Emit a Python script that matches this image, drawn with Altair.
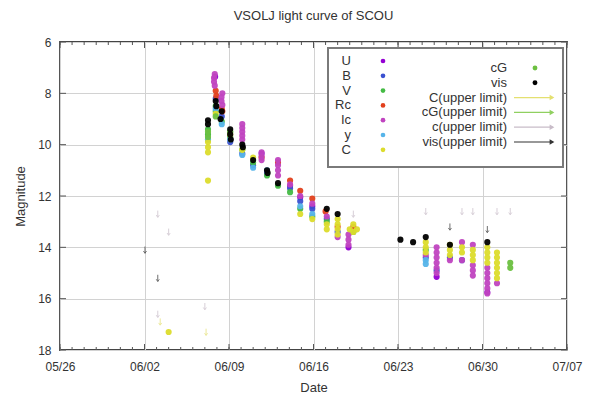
import altair as alt
import pandas as pd
import datetime as dt

# ---------------- data (June day number, magnitude) ----------------
BANDS = ["U", "B", "V", "Rc", "Ic", "y", "C", "cG", "vis"]
COLORS = ["#9400d3", "#3a50d0", "#44bb44", "#e2401c", "#c044c0",
          "#56b4e9", "#dcdc2c", "#6cc040", "#000000"]

U_day = [7.85, 11.7, 14.06, 14.9, 15.9, 18.9, 26.2, 30.4]
U_mag = [7.35, 10.35, 11.6, 12.05, 12.4, 14.0, 15.15, 15.75]

B_day = [7.9, 8.4, 9.1, 10.1, 11.0, 12.15, 14.06, 14.9, 15.9, 17.1, 18.0, 25.3, 26.2, 27.3, 28.3]
B_mag = [8.2, 8.9, 9.9, 10.35, 10.8, 11.1, 11.7, 12.2, 12.5, 12.9, 13.4, 14.4, 14.9, 14.4, 14.5]

V_day = [7.26, 7.26, 7.26, 7.9, 7.9, 8.4, 9.1, 9.1, 10.1, 11.0, 12.15, 13.06, 14.06, 14.9, 15.9, 17.1, 19.3, 25.3]
V_mag = [9.4, 9.6, 9.8, 8.5, 8.7, 9.1, 9.5, 9.7, 10.2, 10.7, 11.2, 11.6, 11.85, 12.5, 12.8, 13.0, 13.4, 14.1]

Rc_day = [7.9, 7.95, 8.4, 8.45, 11.7, 13.06, 14.06, 14.9, 15.9, 17.0, 18.0, 19.3]
Rc_mag = [7.9, 8.1, 8.6, 8.7, 10.5, 10.7, 11.4, 11.8, 12.1, 12.6, 13.2, 13.2]

Ic_day = [7.82, 7.76, 7.76, 7.82, 8.45, 8.38, 8.38, 8.45,
          10.1, 10.1, 10.1, 10.1, 10.1, 11.7, 11.7, 11.7,
          13.06, 13.06, 13.06, 13.06, 14.06, 14.9, 15.9, 17.1, 18.0,
          18.9, 18.9, 18.9, 25.3,
          26.2, 26.2, 26.2, 26.2, 26.2, 26.2, 27.3, 28.3, 28.3,
          29.2, 29.2, 29.2, 29.2,
          30.4, 30.4, 30.4, 30.4, 30.4, 30.4, 31.2]
Ic_mag = [7.25, 7.4, 7.55, 7.7, 8.0, 8.15, 8.3, 8.45,
          9.2, 9.35, 9.5, 9.65, 9.8, 10.3, 10.45, 10.6,
          10.6, 10.8, 11.0, 11.2, 11.55, 12.0, 12.3, 12.8, 13.6,
          13.5, 13.7, 13.9, 14.3,
          14.0, 14.2, 14.4, 14.6, 14.8, 15.0, 14.5, 13.8, 14.5,
          13.9, 14.7, 14.9, 15.1,
          14.8, 15.0, 15.2, 15.4, 15.6, 15.8, 15.4]

y_day = [7.26, 7.9, 8.4, 9.1, 10.1, 11.0, 12.15, 14.9, 15.9, 25.3, 25.3]
y_mag = [9.8, 8.6, 9.2, 9.8, 10.4, 10.9, 11.0, 12.4, 12.7, 14.5, 14.65]

C_day = [4.0, 7.26, 7.26, 7.26, 7.26, 7.9, 9.1, 10.1, 11.0, 14.9, 15.9,
         17.1, 17.1, 18.0, 18.0, 18.0, 18.0, 19.0, 19.3, 19.3, 19.6,
         25.3, 25.3, 25.3, 27.3, 27.3, 27.3, 28.3, 28.3,
         29.2, 29.2, 29.2, 30.4, 30.4, 30.4, 30.4,
         31.2, 31.2, 31.2, 31.2, 31.2, 31.2]
C_mag = [17.3, 9.9, 10.1, 10.3, 11.4, 8.8, 9.6, 10.2, 10.5, 12.7, 12.9,
         13.1, 13.3, 12.9, 13.1, 13.3, 13.5, 13.3, 13.1, 13.4, 13.3,
         13.8, 14.0, 14.2, 13.9, 14.1, 14.3, 14.0, 14.2,
         14.1, 14.3, 14.5, 14.0, 14.2, 14.4, 14.6,
         14.2, 14.4, 14.6, 14.8, 15.0, 15.2]

cG_day = [7.26, 7.26, 7.9, 9.1, 32.3, 32.3]
cG_mag = [9.5, 9.7, 8.9, 9.5, 14.6, 14.8]

vis_day = [7.26, 7.26, 7.9, 7.95, 8.3, 8.4, 9.1, 9.1, 9.15, 10.1, 10.15, 11.0,
           12.15, 12.2, 13.06, 17.1, 18.0, 23.2, 24.25, 25.3, 27.3, 30.4]
vis_mag = [9.05, 9.2, 8.3, 8.5, 9.0, 8.7, 9.4, 9.6, 9.8, 10.0, 10.1, 10.6,
           11.0, 11.1, 11.5, 12.5, 12.7, 13.7, 13.8, 13.6, 13.9, 13.8]

# upper limits
UL_KINDS = ["C(upper limit)", "cG(upper limit)", "c(upper limit)", "vis(upper limit)"]
UL_COLORS = ["#e4e070", "#90d060", "#c8bcc8", "#333333"]
ulC_day = [3.3, 7.1]
ulC_mag = [16.9, 17.3]
ulc_day = [3.1, 4.0, 3.1, 7.0, 19.3, 25.3, 28.3, 29.2, 31.2, 32.3]
ulc_mag = [12.7, 13.4, 16.6, 16.3, 12.7, 12.6, 12.6, 12.6, 12.6, 12.6]
ulvis_day = [2.04, 3.1, 27.3, 30.4]
ulvis_mag = [14.1, 15.2, 13.2, 13.3]

# axis tick labels
Y_TICKS = [6, 8, 10, 12, 14, 16, 18]

# ---------------- tables ----------------
series = {"U": (U_day, U_mag), "B": (B_day, B_mag), "V": (V_day, V_mag),
          "Rc": (Rc_day, Rc_mag), "Ic": (Ic_day, Ic_mag), "y": (y_day, y_mag),
          "C": (C_day, C_mag), "cG": (cG_day, cG_mag), "vis": (vis_day, vis_mag)}

def to_date(days):
    return [pd.Timestamp("2024-05-31") + pd.to_timedelta(d, unit="D") for d in days]

rows = []
for b in BANDS:
    d, m = series[b]
    for t, mag in zip(to_date(d), m):
        rows.append({"date": t, "mag": mag, "band": b})
pts = pd.DataFrame(rows)

ul_series = {"C(upper limit)": (ulC_day, ulC_mag), "c(upper limit)": (ulc_day, ulc_mag),
             "vis(upper limit)": (ulvis_day, ulvis_mag)}
ul_rows = []
for k, (d, m) in ul_series.items():
    for t, mag in zip(to_date(d), m):
        ul_rows.append({"date": t, "mag": mag, "kind": k})
ul = pd.DataFrame(ul_rows)

# ---------------- axes ----------------
start = dt.date(2024, 5, 26)
all_days = [start + dt.timedelta(days=i) for i in range(43)]
week_vals = [alt.DateTime(year=d.year, month=d.month, date=d.day) for d in all_days[::7]]
tick_df = pd.DataFrame({"date": [pd.Timestamp(d) for d in all_days],
                        "major": [i % 7 == 0 for i in range(43)]})
ytick_df = pd.DataFrame({"mag": Y_TICKS})

FONT = "Liberation Sans"
TXT = "#333333"
W, H = 507, 308

x_enc = alt.X("date:T", title="Date",
              scale=alt.Scale(domain=[alt.DateTime(year=2024, month=5, date=26),
                                      alt.DateTime(year=2024, month=7, date=7)]),
              axis=alt.Axis(values=week_vals, format="%m/%d", ticks=False,
                            labelOverlap=False, labelFlush=False, domain=False,
                            gridColor="#d2d2d2",
                            labelFont=FONT, labelFontSize=12, labelColor=TXT, labelPadding=11,
                            titleFont=FONT, titleFontSize=13, titleFontWeight="normal",
                            titleColor=TXT, titlePadding=9))
y_enc = alt.Y("mag:Q", title="Magnitude",
              scale=alt.Scale(domain=[6, 18], reverse=True, nice=False, zero=False),
              axis=alt.Axis(values=Y_TICKS, domain=False, ticks=False,
                            gridColor="#d2d2d2",
                            labelFont=FONT, labelFontSize=12, labelColor=TXT, labelPadding=9,
                            titleFont=FONT, titleFontSize=13, titleFontWeight="normal",
                            titleColor=TXT, titlePadding=10))

points = alt.Chart(pts).mark_point(filled=True, size=38, opacity=0.95).encode(
    x=x_enc, y=y_enc,
    color=alt.Color("band:N", scale=alt.Scale(domain=BANDS, range=COLORS), legend=None),
)

arrow = "M0,-1L0,1M-0.45,0.35L0,1L0.45,0.35"
ulims = alt.Chart(ul).mark_point(shape=arrow, size=45, filled=False, strokeWidth=1).encode(
    x=x_enc, y=y_enc,
    stroke=alt.Stroke("kind:N", scale=alt.Scale(domain=UL_KINDS, range=UL_COLORS), legend=None),
)

# inward (gnuplot-style) ticks on all four sides
TK = "#555555"
minor_b = alt.Chart(tick_df).mark_rule(color=TK, strokeWidth=1).encode(
    x=x_enc, y=alt.value(H), y2=alt.value(H - 3))
minor_t = alt.Chart(tick_df).mark_rule(color=TK, strokeWidth=1).encode(
    x=x_enc, y=alt.value(0), y2=alt.value(3))
major_b = alt.Chart(tick_df).transform_filter("datum.major").mark_rule(color=TK, strokeWidth=1).encode(
    x=x_enc, y=alt.value(H), y2=alt.value(H - 6))
major_t = alt.Chart(tick_df).transform_filter("datum.major").mark_rule(color=TK, strokeWidth=1).encode(
    x=x_enc, y=alt.value(0), y2=alt.value(6))
ytick_l = alt.Chart(ytick_df).mark_rule(color=TK, strokeWidth=1).encode(
    y=y_enc, x=alt.value(0), x2=alt.value(6))
ytick_r = alt.Chart(ytick_df).mark_rule(color=TK, strokeWidth=1).encode(
    y=y_enc, x=alt.value(W), x2=alt.value(W - 6))

# ---------------- key (gnuplot style), positions relative to plot area ----------------
OX, OY = 60, 42
one = pd.DataFrame({"k": [0]})
layers = [points, ulims, minor_b, minor_t, major_b, major_t, ytick_l, ytick_r]
layers.append(alt.Chart(one).mark_rect(fill="white", stroke="#7a7a7a", strokeWidth=2).encode(
    x=alt.value(328 - OX), x2=alt.value(563 - OX), y=alt.value(48 - OY), y2=alt.value(167 - OY)))

left_labels = BANDS[:7]
left_colors = COLORS[:7]
for i, (lab, col) in enumerate(zip(left_labels, left_colors)):
    yy = 61 + i * 14.8 - OY
    layers.append(alt.Chart(one).mark_text(align="right", baseline="middle", font=FONT,
                                           fontSize=13, color=TXT, text=lab).encode(
        x=alt.value(351 - OX), y=alt.value(yy)))
    layers.append(alt.Chart(one).mark_point(filled=True, size=22, color=col, opacity=1).encode(
        x=alt.value(383 - OX), y=alt.value(yy)))

right_labels = ["cG", "vis"] + UL_KINDS
for i, lab in enumerate(right_labels):
    yy = 68 + i * 14.8 - OY
    layers.append(alt.Chart(one).mark_text(align="right", baseline="middle", font=FONT,
                                           fontSize=13, color=TXT, text=lab).encode(
        x=alt.value(507 - OX), y=alt.value(yy)))
    if i < 2:
        col = COLORS[7 + i]
        layers.append(alt.Chart(one).mark_point(filled=True, size=24, color=col, opacity=1).encode(
            x=alt.value(535 - OX), y=alt.value(yy)))
    else:
        col = UL_COLORS[i - 2]
        layers.append(alt.Chart(one).mark_rule(color=col, strokeWidth=1.2).encode(
            x=alt.value(514 - OX), x2=alt.value(553 - OX), y=alt.value(yy)))
        layers.append(alt.Chart(one).mark_point(shape="triangle-right", filled=True, size=30,
                                                color=col, opacity=1).encode(
            x=alt.value(552 - OX), y=alt.value(yy)))

chart = alt.layer(*layers).properties(
    width=W, height=H,
    autosize=alt.AutoSizeParams(type="none"),
    padding={"left": OX, "top": OY, "right": 23, "bottom": 43},
    title=alt.Title("VSOLJ light curve of SCOU", font=FONT, fontSize=13,
                    fontWeight="normal", color=TXT, offset=13),
).configure(background="white").configure_view(stroke="#444444", strokeWidth=1.8)

chart.save("out.html", embed_options={"renderer": "svg", "actions": False})
